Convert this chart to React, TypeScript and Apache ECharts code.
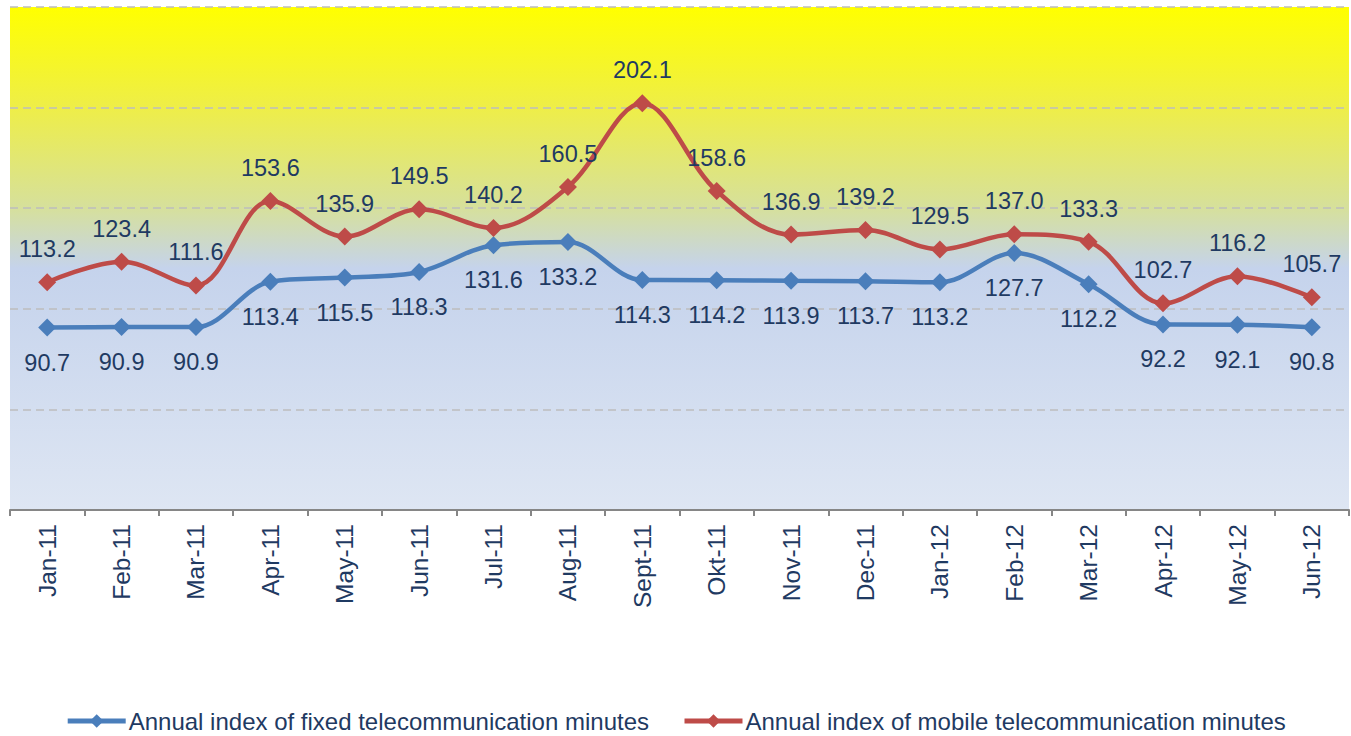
import React, { useEffect, useRef } from "react";
import * as echarts from "echarts";

const categories = [
  "Jan-11", "Feb-11", "Mar-11", "Apr-11", "May-11", "Jun-11", "Jul-11", "Aug-11", "Sept-11",
  "Okt-11", "Nov-11", "Dec-11", "Jan-12", "Feb-12", "Mar-12", "Apr-12", "May-12", "Jun-12",
];
const fixedValues = [90.7, 90.9, 90.9, 113.4, 115.5, 118.3, 131.6, 133.2, 114.3, 114.2, 113.9, 113.7, 113.2, 127.7, 112.2, 92.2, 92.1, 90.8];
const mobileValues = [113.2, 123.4, 111.6, 153.6, 135.9, 149.5, 140.2, 160.5, 202.1, 158.6, 136.9, 139.2, 129.5, 137.0, 133.3, 102.7, 116.2, 105.7];
const fixedName = "Annual index of fixed telecommunication minutes";
const mobileName = "Annual index of mobile telecommunication minutes";

const TEXT = "#1F3A62";
const FONT = "'Liberation Sans', Arial, sans-serif";
const BLUE = "#4A7EBB";
const RED = "#BE4B48";

export default function App() {
  const ref = useRef<HTMLDivElement>(null);
  useEffect(() => {
    if (!ref.current) return;
    const chart = echarts.init(ref.current, undefined, { renderer: "svg" });
    const label = (pos: string, dist: number) => ({
      show: true,
      position: pos,
      distance: dist,
      color: TEXT,
      fontSize: 23.5,
      fontFamily: FONT,
      formatter: (p: any) => Number(p.value).toFixed(1),
    });
    chart.setOption({
      animation: false,
      backgroundColor: "#ffffff",
      grid: {
        left: 10,
        right: 2,
        top: 7,
        bottom: 226,
        show: true,
        borderWidth: 0,
        backgroundColor: new echarts.graphic.LinearGradient(0, 0, 0, 1, [
          { offset: 0, color: "#FFFF00" },
          { offset: 0.2, color: "#EEEE48" },
          { offset: 0.4, color: "#D6E09C" },
          { offset: 0.52, color: "#C5D3EC" },
          { offset: 1, color: "#DEE6F3" },
        ]),
      },
      legend: {
        bottom: -2,
        left: "center",
        itemWidth: 58,
        itemHeight: 17,
        itemGap: 33,
        lineStyle: { width: 5 },
        textStyle: { color: TEXT, fontSize: 24, fontFamily: FONT, padding: [0, 0, 0, -2] },
        data: [fixedName, mobileName],
      },
      xAxis: {
        type: "category",
        data: categories,
        boundaryGap: true,
        axisLine: { lineStyle: { color: "#868686", width: 2 } },
        axisTick: { show: true, length: 6, lineStyle: { color: "#868686", width: 2 } },
        axisLabel: {
          rotate: 90,
          color: TEXT,
          fontSize: 24.5,
          fontFamily: FONT,
          margin: 14,
        },
      },
      yAxis: {
        type: "value",
        min: 0,
        max: 250,
        interval: 50,
        axisLine: { show: false },
        axisTick: { show: false },
        axisLabel: { show: false },
        splitLine: { lineStyle: { color: "#BDBDBD", type: [8, 5], width: 1.5 } },
      },
      series: [
        {
          name: fixedName,
          type: "line",
          data: fixedValues,
          smooth: 0.35,
          symbol: "diamond",
          symbolSize: 18,
          itemStyle: { color: BLUE },
          lineStyle: { color: BLUE, width: 4.5 },
          label: label("bottom", 14),
          z: 3,
        },
        {
          name: mobileName,
          type: "line",
          data: mobileValues,
          smooth: 0.35,
          symbol: "diamond",
          symbolSize: 18,
          itemStyle: { color: RED },
          lineStyle: { color: RED, width: 4.5 },
          label: label("top", 12),
          z: 4,
        },
      ],
    });
    return () => chart.dispose();
  }, []);
  return (
    <div
      ref={ref}
      style={{ position: "fixed", left: 0, top: 0, width: 1351, height: 736 }}
    />
  );
}
